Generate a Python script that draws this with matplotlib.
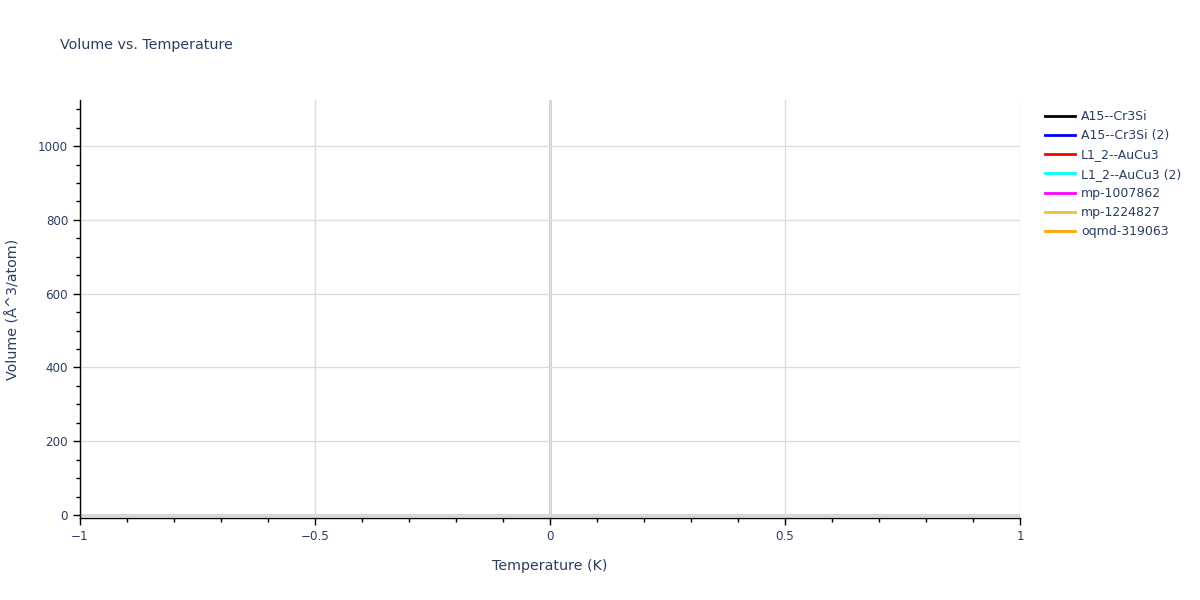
import matplotlib
matplotlib.use("Agg")
import matplotlib.pyplot as plt
from matplotlib.ticker import MultipleLocator

series_names = ["A15--Cr3Si", "A15--Cr3Si (2)", "L1_2--AuCu3", "L1_2--AuCu3 (2)",
                "mp-1007862", "mp-1224827", "oqmd-319063"]
series_colors = ["black", "blue", "red", "cyan", "magenta", "#EBC13B", "orange"]
# No visible data in the reference: every trace is empty
temperatures = [[] for _ in series_names]
volumes = [[] for _ in series_names]

text_color = "#2a3f5f"
grid_color = "#dddddd"

fig = plt.figure(figsize=(12, 6), dpi=100)
ax = fig.add_axes([80/1200, 1 - 518/600, 940/1200, 418/600])

for name, col, t, v in zip(series_names, series_colors, temperatures, volumes):
    ax.plot(t, v, color=col, lw=2, label=name)

ax.set_xlim(-1, 1)
ax.set_ylim(-8, 1125)
ax.xaxis.set_major_locator(MultipleLocator(0.5))
ax.xaxis.set_minor_locator(MultipleLocator(0.1))
ax.yaxis.set_major_locator(MultipleLocator(200))
ax.yaxis.set_minor_locator(MultipleLocator(50))

def fmt_x(v, pos):
    if abs(v) < 1e-9:
        return "0"
    s = f"{v:g}"
    return s.replace("-", "\u2212")
ax.xaxis.set_major_formatter(plt.FuncFormatter(fmt_x))

ax.grid(True, which="major", color=grid_color, lw=1)
ax.axvline(0, color="#cccccc", lw=2, zorder=1)
ax.axhline(0, color="#cccccc", lw=2, zorder=1)

for s in ["top", "right"]:
    ax.spines[s].set_visible(False)
for s in ["left", "bottom"]:
    ax.spines[s].set_color("black")
    ax.spines[s].set_linewidth(1)

ax.tick_params(axis="both", which="major", direction="out", length=5, width=1,
               color="black", labelcolor=text_color, labelsize=8.6)
ax.tick_params(axis="both", which="minor", direction="out", length=3, width=1, color="black")

ax.set_xlabel("Temperature (K)", color=text_color, fontsize=10.3, labelpad=12)
ax.set_ylabel("Volume (Å^3/atom)", color=text_color, fontsize=10.3, labelpad=13)

fig.text(60/1200, 1 - 45/600, "Volume vs. Temperature", color=text_color,
         fontsize=10.3, va="center", ha="left")

leg = ax.legend(loc="upper left", bbox_to_anchor=(1040/1200, 1 - 105/600),
                bbox_transform=fig.transFigure, frameon=False, fontsize=9,
                handlelength=2.4, handletextpad=0.5, labelspacing=0.5,
                borderaxespad=0)
for t in leg.get_texts():
    t.set_color(text_color)

fig.savefig("out.png", dpi=100)
